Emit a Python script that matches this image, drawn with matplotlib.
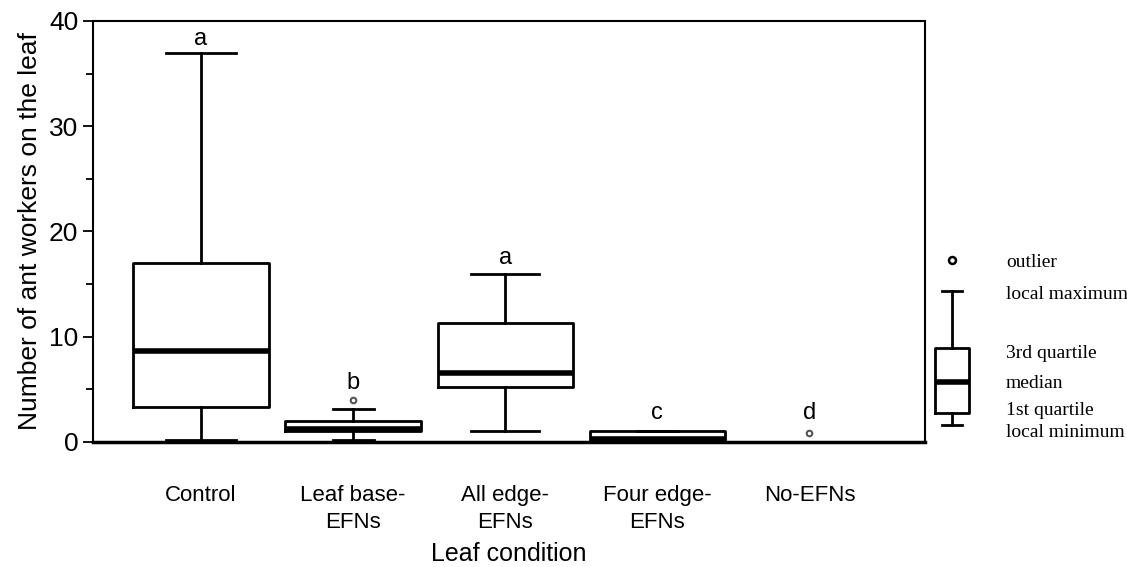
import matplotlib
matplotlib.use("Agg")
import matplotlib.pyplot as plt

plt.rcParams["font.family"] = ["Liberation Sans", "DejaVu Sans"]

# data
conditions = ["Control", "Leaf base-\nEFNs", "All edge-\nEFNs", "Four edge-\nEFNs", "No-EFNs"]
whislo = [0.2, 0.2, 1.0, 0.0]
q1 = [3.3, 1.0, 5.2, 0.0]
med = [8.6, 1.2, 6.6, 0.3]
q3 = [17.0, 2.0, 11.3, 1.0]
whishi = [37.0, 3.1, 16.0, 1.0]
fliers = [[], [4.0], [], []]
no_efn_outlier = 0.9  # No-EFNs: all zero except one outlier
letters = ["a", "b", "a", "c", "d"]
letter_y = [38.3, 5.6, 17.5, 2.8, 2.8]

# legend example box
key_stats = dict(whislo=1.6, q1=2.76, med=5.7, q3=8.95, whishi=14.3, fliers=[17.3])
key_labels = ["outlier", "local maximum", "3rd quartile", "median", "1st quartile", "local minimum"]
key_label_y = [17.1, 14.0, 8.4, 5.6, 3.0, 0.9]

fig = plt.figure(figsize=(11.27, 5.67), dpi=100)
ax = fig.add_axes([0.0825, 0.2205, 0.7383, 0.7425])

stats = []
for i in range(len(whislo)):
    stats.append(dict(whislo=whislo[i], q1=q1[i], med=med[i], q3=q3[i],
                      whishi=whishi[i], fliers=fliers[i]))

pos = list(range(1, len(conditions) + 1))
ax.bxp(stats, positions=pos[:4], widths=0.89, showfliers=True,
       boxprops=dict(linewidth=2, color="black"),
       whiskerprops=dict(linewidth=2, color="black"),
       capprops=dict(linewidth=2, color="black"),
       medianprops=dict(linewidth=4, color="black"),
       flierprops=dict(marker="o", markersize=4, markerfacecolor="white",
                       markeredgecolor="#555555", markeredgewidth=1.5),
       capwidths=[0.46, 0.27, 0.45, 0.27])
ax.plot([pos[4]], [no_efn_outlier], "o", markersize=4, markerfacecolor="white",
        markeredgecolor="#555555", markeredgewidth=1.5)

for i in range(len(letters)):
    ax.text(pos[i], letter_y[i], letters[i], ha="center", va="center", fontsize=17)

ax.set_xlim(0.29, 5.76)
ax.set_ylim(0, 40)
ax.set_yticks([0, 10, 20, 30, 40])
ax.set_yticks([5, 15, 25, 35], minor=True)
ax.tick_params(axis="y", labelsize=19, width=1.3, length=7, direction="out")
ax.tick_params(axis="y", which="minor", width=1.3, length=5)
ax.set_xticks(pos)
ax.set_xticklabels(conditions, fontsize=16, linespacing=1.4)
ax.tick_params(axis="x", length=0, pad=31)
ax.set_ylabel("Number of ant workers on the leaf", fontsize=19, labelpad=5)
ax.set_xlabel("Leaf condition", fontsize=18, labelpad=6)
for s in ["left", "right", "top"]:
    ax.spines[s].set_linewidth(1.5)
ax.spines["bottom"].set_linewidth(2.5)

# key drawn on its own axes to the right
kax = fig.add_axes([0.8208, 0.2205, 0.1792, 0.7425])
kax.set_xlim(0, 1)
kax.set_ylim(0, 40)
kax.axis("off")
kax.bxp([key_stats], positions=[0.134], widths=0.17, showfliers=True,
        boxprops=dict(linewidth=2, color="black"),
        whiskerprops=dict(linewidth=2, color="black"),
        capprops=dict(linewidth=2, color="black"),
        medianprops=dict(linewidth=4, color="black"),
        flierprops=dict(marker="o", markersize=5, markerfacecolor="white",
                        markeredgecolor="black", markeredgewidth=1.8),
        capwidths=0.1)
for lab, yv in zip(key_labels, key_label_y):
    kax.text(0.4, yv, lab, ha="left", va="center", fontsize=14,
             family="Liberation Serif")

fig.savefig("out.png", dpi=100)
